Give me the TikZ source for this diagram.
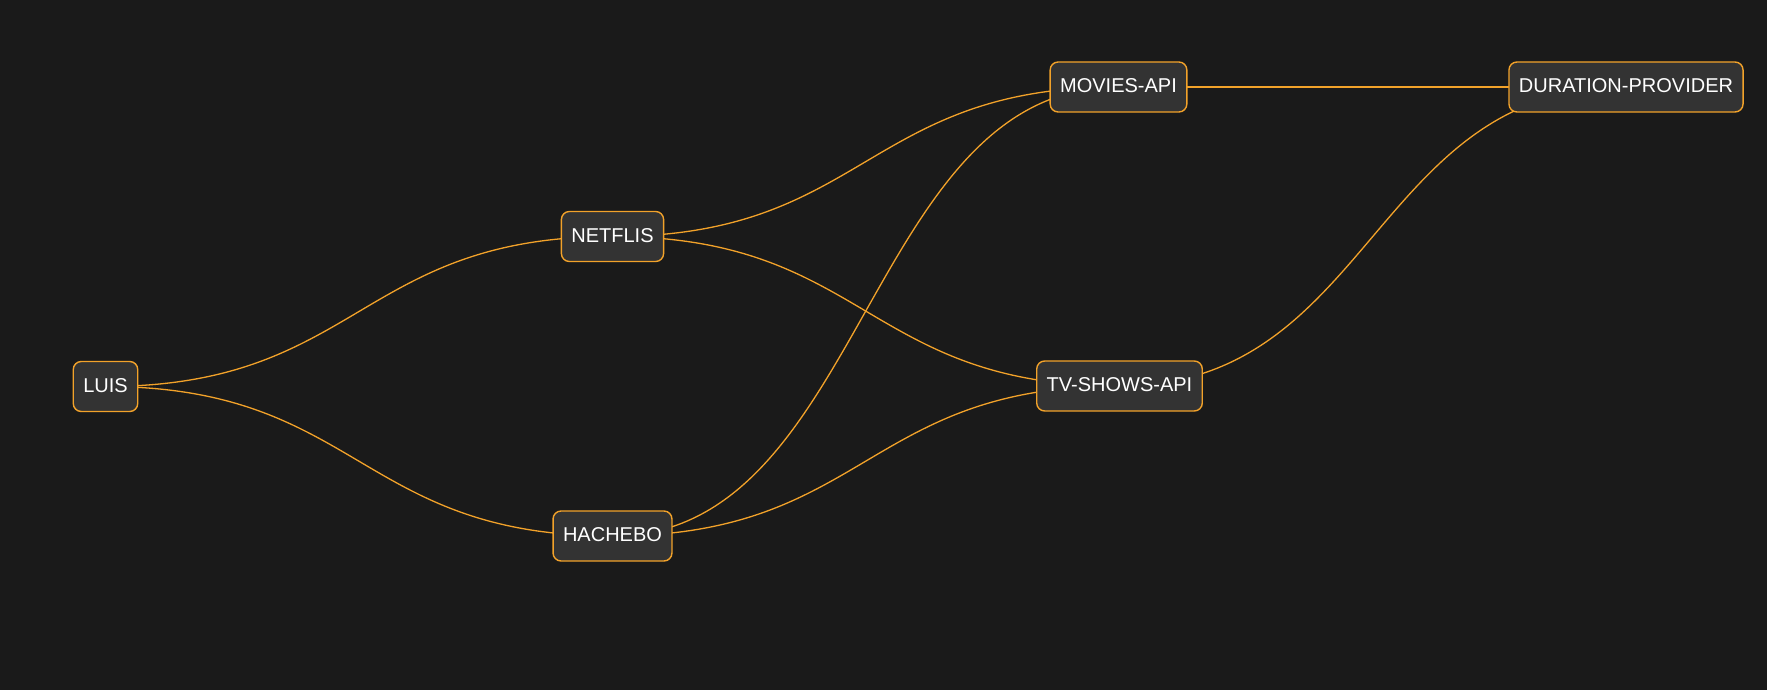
\documentclass[tikz,border=0pt]{standalone}
\usepackage{fontspec}
\setmainfont{Liberation Sans}
\usetikzlibrary{backgrounds,calc}
\definecolor{bgc}{HTML}{1A1A1A}
\definecolor{boxc}{HTML}{333333}
\definecolor{linec}{HTML}{F2A22A}
\tikzset{
  svc/.style={draw=linec, fill=boxc, line width=1.4pt, rounded corners=8pt,
    minimum height=50pt, inner xsep=10pt, text=white,
    text height=14.5pt, text depth=3.5pt,
    font=\fontsize{20pt}{24pt}\selectfont},
  link/.style={draw=linec, line width=1.3pt}
}
\newcommand\hlink[2]{%
  \path[link] let \p1=(#1.center), \p2=(#2.center) in
    (#1.center) .. controls ({(\x1+\x2)/2},\y1) and ({(\x1+\x2)/2},\y2) .. (#2.center);}
\begin{document}
\begin{tikzpicture}[x=1pt,y=-1pt]
\useasboundingbox (0,0) rectangle (1767,690);
\node[svc] (luis) at (105.5,386.5) {LUIS};
\node[svc] (netflis) at (612.5,236.5) {NETFLIS};
\node[svc] (hachebo) at (612.5,536) {HACHEBO};
\node[svc] (movies) at (1118.5,87) {MOVIES-API};
\node[svc] (tvshows) at (1119.5,386) {TV-SHOWS-API};
\node[svc] (duration) at (1626,87) {DURATION-PROVIDER};
\begin{scope}[on background layer]
  \fill[bgc] (0,0) rectangle (1767,690);
  \hlink{luis}{netflis}
  \hlink{luis}{hachebo}
  \hlink{netflis}{movies}
  \hlink{netflis}{tvshows}
  \hlink{hachebo}{movies}
  \hlink{hachebo}{tvshows}
  \hlink{movies}{duration}
  \hlink{tvshows}{duration}
\end{scope}
\end{tikzpicture}
\end{document}
